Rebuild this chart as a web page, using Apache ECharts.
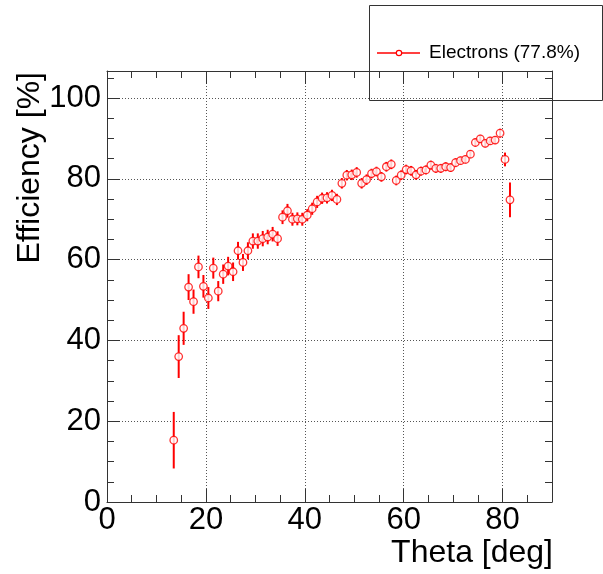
<!DOCTYPE html>
<html>
<head>
<meta charset="utf-8">
<script src="https://cdn.jsdelivr.net/npm/echarts@6/dist/echarts.min.js"></script>
<style>
  html, body { margin: 0; padding: 0; background: #fff; }
  #main { width: 603px; height: 574px; }
</style>
</head>
<body>
<div id="main"></div>
<script>
// 数据：theta 为每个 1 度的分箱中心
let theta = [13.5, 14.5, 15.5, 16.5, 17.5, 18.5, 19.5, 20.5, 21.5, 22.5,
             23.5, 24.5, 25.5, 26.5, 27.5, 28.5, 29.5, 30.5, 31.5, 32.5,
             33.5, 34.5, 35.5, 36.5, 37.5, 38.5, 39.5, 40.5, 41.5, 42.5,
             43.5, 44.5, 45.5, 46.5, 47.5, 48.5, 49.5, 50.5, 51.5, 52.5,
             53.5, 54.5, 55.5, 56.5, 57.5, 58.5, 59.5, 60.5, 61.5, 62.5,
             63.5, 64.5, 65.5, 66.5, 67.5, 68.5, 69.5, 70.5, 71.5, 72.5,
             73.5, 74.5, 75.5, 76.5, 77.5, 78.5, 79.5, 80.5, 81.5];
let efficiency = [15.3, 36.0, 43.0, 53.2, 49.6, 58.2, 53.4, 50.5, 57.9, 52.2,
                  56.4, 58.4, 57.0, 62.2, 59.3, 62.2, 64.6, 64.6, 65.2, 65.6,
                  66.3, 65.2, 70.5, 72.1, 70.0, 70.1, 70.0, 71.0, 72.6, 74.3,
                  75.2, 75.3, 75.9, 74.9, 78.9, 80.9, 81.0, 81.6, 78.9, 79.8,
                  81.3, 81.8, 80.5, 83.0, 83.6, 79.6, 80.9, 82.3, 82.0, 81.0,
                  81.9, 82.2, 83.4, 82.6, 82.6, 83.0, 82.8, 84.0, 84.5, 84.8,
                  86.1, 89.0, 89.9, 88.8, 89.4, 89.6, 91.3, 84.8, 74.8];
let errors = [7.0, 5.3, 4.1, 3.2, 3.0, 2.8, 2.8, 2.7, 2.6, 2.5,
              2.4, 2.3, 2.3, 2.2, 2.1, 2.1, 1.9, 1.9, 1.9, 1.8,
              1.8, 1.8, 1.7, 1.7, 1.6, 1.6, 1.6, 1.5, 1.5, 1.5,
              1.4, 1.4, 1.4, 1.4, 1.3, 1.3, 1.3, 1.3, 1.3, 1.3,
              1.2, 1.2, 1.2, 1.2, 1.2, 1.2, 1.2, 1.2, 1.2, 1.2,
              1.1, 1.1, 1.1, 1.1, 1.1, 1.1, 1.1, 1.1, 1.0, 1.0,
              1.0, 1.0, 1.0, 1.0, 1.0, 1.0, 1.1, 1.7, 4.3];
let xTicks = [0, 20, 40, 60, 80];
let yTicks = [0, 20, 40, 60, 80, 100];
let legendLabel = 'Electrons (77.8%)';

let chart = echarts.init(document.getElementById('main'));

let points = theta.map(function (t, i) { return [t, efficiency[i], errors[i]]; });

let frameColor = '#333';
let gridLine = { show: true, lineStyle: { color: '#555', type: [1, 2], width: 1 } };
let font = 'Liberation Sans, Arial, sans-serif';

// 底/左轴带标签，顶/右轴只画刻度（ROOT 风格）
function xAxisOf(pos, withLabel) {
    return {
        type: 'value', position: pos, min: 0, max: 90, interval: 20,
        axisLine: { show: true, onZero: false, lineStyle: { color: frameColor, width: 1 } },
        axisTick: { show: true, inside: true, length: 13, lineStyle: { color: frameColor } },
        minorTick: { show: true, splitNumber: 4, length: 7, lineStyle: { color: frameColor } },
        splitLine: withLabel ? gridLine : { show: false },
        axisLabel: withLabel ? {
            show: true, color: '#000', fontSize: 31, fontFamily: font, margin: 3,
            formatter: function (v) { return xTicks.indexOf(v) >= 0 ? String(v) : ''; }
        } : { show: false }
    };
}
function yAxisOf(pos, withLabel) {
    return {
        type: 'value', position: pos, min: 0, max: 106.7, interval: 20,
        axisLine: { show: true, onZero: false, lineStyle: { color: frameColor, width: 1 } },
        axisTick: { show: true, inside: true, length: 13, lineStyle: { color: frameColor } },
        minorTick: { show: true, splitNumber: 4, length: 7, lineStyle: { color: frameColor } },
        splitLine: withLabel ? gridLine : { show: false },
        axisLabel: withLabel ? {
            show: true, color: '#000', fontSize: 31, fontFamily: font, margin: 6,
            showMaxLabel: false,
            formatter: function (v) { return yTicks.indexOf(v) >= 0 ? String(v) : ''; }
        } : { show: false }
    };
}

let option = {
    animation: false,
    backgroundColor: '#fff',
    grid: { left: 107, right: 51, top: 71, bottom: 72, containLabel: false, outerBoundsMode: 'none' },
    xAxis: [xAxisOf('bottom', true), xAxisOf('top', false)],
    yAxis: [yAxisOf('left', true), yAxisOf('right', false)],
    series: [
        {
            // 误差棒
            type: 'custom',
            xAxisIndex: 0, yAxisIndex: 0,
            data: points,
            z: 2,
            renderItem: function (params, api) {
                let x = api.value(0), y = api.value(1), e = api.value(2);
                let p1 = api.coord([x, y - e]);
                let p2 = api.coord([x, y + e]);
                return {
                    type: 'line',
                    shape: { x1: p1[0], y1: p1[1], x2: p2[0], y2: p2[1] },
                    style: { stroke: '#ff0000', lineWidth: 2 }
                };
            }
        },
        {
            type: 'scatter',
            xAxisIndex: 0, yAxisIndex: 0,
            data: points,
            symbol: 'circle',
            symbolSize: 7.5,
            z: 3,
            itemStyle: { color: '#fff', borderColor: '#ff0000', borderWidth: 1.3 }
        }
    ],
    graphic: [
        {
            type: 'text', x: 30, y: 72, rotation: Math.PI / 2, z: 10,
            style: { text: 'Efficiency [%]', fontSize: 32, fontFamily: font, fill: '#000', align: 'right', verticalAlign: 'middle' }
        },
        {
            type: 'text', x: 553, y: 553, z: 10,
            style: { text: 'Theta [deg]', fontSize: 32, fontFamily: font, fill: '#000', align: 'right', verticalAlign: 'middle' }
        },
        {
            // 图例框
            type: 'group', z: 20,
            children: [
                { type: 'rect', shape: { x: 369.5, y: 5.5, width: 233, height: 95 }, style: { fill: '#fff', stroke: frameColor, lineWidth: 1 } },
                { type: 'line', shape: { x1: 377, y1: 53, x2: 420, y2: 53 }, style: { stroke: '#ff0000', lineWidth: 1.5 } },
                { type: 'circle', shape: { cx: 399, cy: 53, r: 2.7 }, style: { fill: '#fff', stroke: '#ff0000', lineWidth: 1.2 } },
                { type: 'text', x: 429, y: 53, style: { text: legendLabel, fontSize: 19, fontFamily: font, fill: '#000', verticalAlign: 'middle' } }
            ]
        }
    ]
};

chart.setOption(option);
</script>
</body>
</html>
